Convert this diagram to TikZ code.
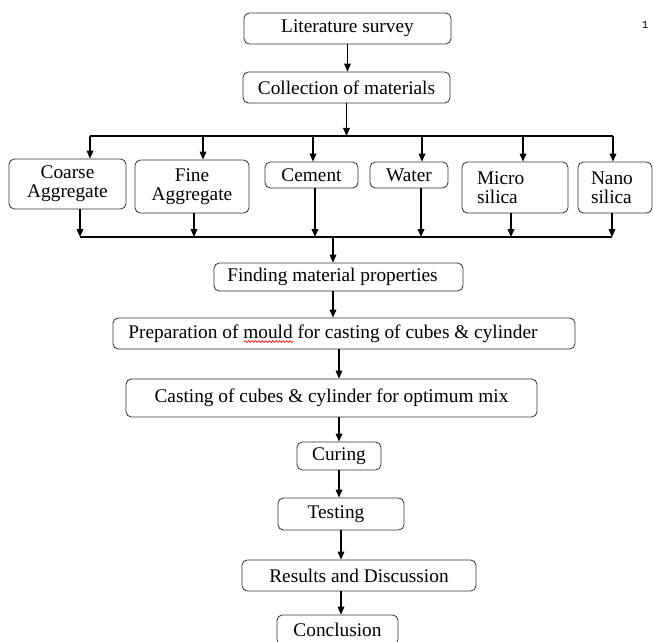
\documentclass[tikz,border=0pt]{standalone}
\usepackage{fontspec}
\setmainfont{Liberation Serif}
\newfontfamily\pagenofont{Liberation Mono}
\usetikzlibrary{arrows.meta, positioning, decorations.pathmorphing}

\begin{document}
\begin{tikzpicture}[
    x=0.75pt, y=-0.75pt,
    %% ── Box styles ──────────────────────────────────────────────────────
    stepbox/.style={
        draw=black!80, line width=0.6pt,
        rounded corners=4pt,
        inner sep=0pt,
        align=center,
        font=\fontsize{14.5}{14.5}\selectfont,
    },
    leftbox/.style={
        stepbox,
        align=left,
    },
    %% ── Arrow styles ────────────────────────────────────────────────────
    flow/.style={
        -{Triangle[length=6pt, width=5pt]},
        line width=0.9pt,
    },
    bus/.style={
        line width=0.9pt,
    },
    squiggle/.style={
        red, line width=0.5pt,
        decorate, decoration={snake, amplitude=0.7pt, segment length=2.6pt},
    },
]
\useasboundingbox (0,0) rectangle (654,642);

%%─────────────────────────────────────────────────────────────────────────
%% Top steps
%%─────────────────────────────────────────────────────────────────────────
\node[stepbox, minimum width=155.25pt, minimum height=23.25pt] (survey) at (347.5, 28.5)
    {Literature survey};
\node[stepbox, minimum width=155.25pt, minimum height=23.25pt] (collect) at (346.5, 87.5)
    {Collection of materials};

%%─────────────────────────────────────────────────────────────────────────
%% Materials
%%─────────────────────────────────────────────────────────────────────────
\node[stepbox, minimum width=87.75pt, minimum height=37.5pt] (coarse) at (67.5, 184)
    {Coarse\\Aggregate};
\node[stepbox, minimum width=85.5pt, minimum height=39.75pt] (fine) at (192, 186.5)
    {Fine\\Aggregate};
\node[stepbox, minimum width=69.75pt, minimum height=19.5pt] (cement) at (311.5, 175)
    {Cement};
\node[stepbox, minimum width=58.5pt, minimum height=19.5pt] (water) at (409, 175)
    {Water};
\node[leftbox, inner xsep=11.25pt, text width=57pt, minimum height=38.25pt] (micro) at (515, 187.5)
    {Micro\\silica};
\node[leftbox, inner xsep=9.75pt, text width=36pt, minimum height=38.25pt] (nano) at (615, 187.5)
    {Nano\\silica};

%%─────────────────────────────────────────────────────────────────────────
%% Lower steps
%%─────────────────────────────────────────────────────────────────────────
\node[stepbox, minimum width=186.75pt, minimum height=21pt] (props) at (338.5, 277)
    {Finding material properties\hspace*{9pt}};
\node[stepbox, minimum width=346.5pt, minimum height=23.25pt] (mould) at (344, 333.5)
    {Preparation of mould for casting of cubes \& cylinder\hspace*{16.5pt}};
\node[stepbox, minimum width=308.25pt, minimum height=28.5pt] (casting) at (331.5, 398)
    {Casting of cubes \& cylinder for optimum mix};
\node[stepbox, minimum width=63pt, minimum height=21pt] (curing) at (339, 456)
    {Curing};
\node[stepbox, minimum width=94.5pt, minimum height=24pt] (testing) at (341, 514)
    {Testing\hspace*{7.5pt}};
\node[stepbox, minimum width=175.5pt, minimum height=23.25pt] (results) at (359, 575.5)
    {Results and Discussion};
\node[stepbox, minimum width=90.75pt, minimum height=22.5pt] (concl) at (337.5, 630)
    {Conclusion};

%% spell-check mark under "mould"
\draw[squiggle] ([xshift=-75pt, yshift=-2.5pt]mould.base) -- ([xshift=-38pt, yshift=-2.5pt]mould.base);

%% page number
\node[font=\pagenofont\fontsize{8}{8}\selectfont] (pageno) at (645, 25) {1};

%%─────────────────────────────────────────────────────────────────────────
%% Bus points
%%─────────────────────────────────────────────────────────────────────────
\coordinate (t1) at (90, 136);
\coordinate (t2) at (203, 136);
\coordinate (t3) at (313, 136);
\coordinate (t4) at (422, 136);
\coordinate (t5) at (523, 136);
\coordinate (t6) at (613, 136);
\coordinate (b1) at (80, 237);
\coordinate (b2) at (194, 237);
\coordinate (b3) at (315, 237);
\coordinate (b4) at (421, 237);
\coordinate (b5) at (511, 237);
\coordinate (b6) at (612, 237);
\coordinate (merge) at (333, 237);

%%─────────────────────────────────────────────────────────────────────────
%% Connectors
%%─────────────────────────────────────────────────────────────────────────
\draw[flow] (survey.south) -- (survey.south |- collect.north);
\draw[flow] (collect.south) -- (collect.south |- t1);

%% split to the six materials
\draw[bus] (t1) -- (t6);
\foreach \t/\m in {t1/coarse, t2/fine, t3/cement, t4/water, t5/micro, t6/nano}
    \draw[flow] (\t) -- (\t |- \m.north);

%% materials back together
\foreach \b/\m in {b1/coarse, b2/fine, b3/cement, b4/water, b5/micro, b6/nano}
    \draw[flow] (\b |- \m.south) -- (\b);
\draw[bus] (b1) -- (b6);

%% main chain
\draw[flow] (merge) -- (merge |- props.north);
\draw[flow] (merge |- props.south) -- (merge |- mould.north);
\draw[flow] (curing.north |- mould.south) -- (curing.north |- casting.north);
\draw[flow] (curing.north |- casting.south) -- (curing.north);
\draw[flow] (curing.south) -- (curing.south |- testing.north);
\draw[flow] (testing.south) -- (testing.south |- results.north);
\draw[flow] (testing.south |- results.south) -- (testing.south |- concl.north);

\end{tikzpicture}
\end{document}
